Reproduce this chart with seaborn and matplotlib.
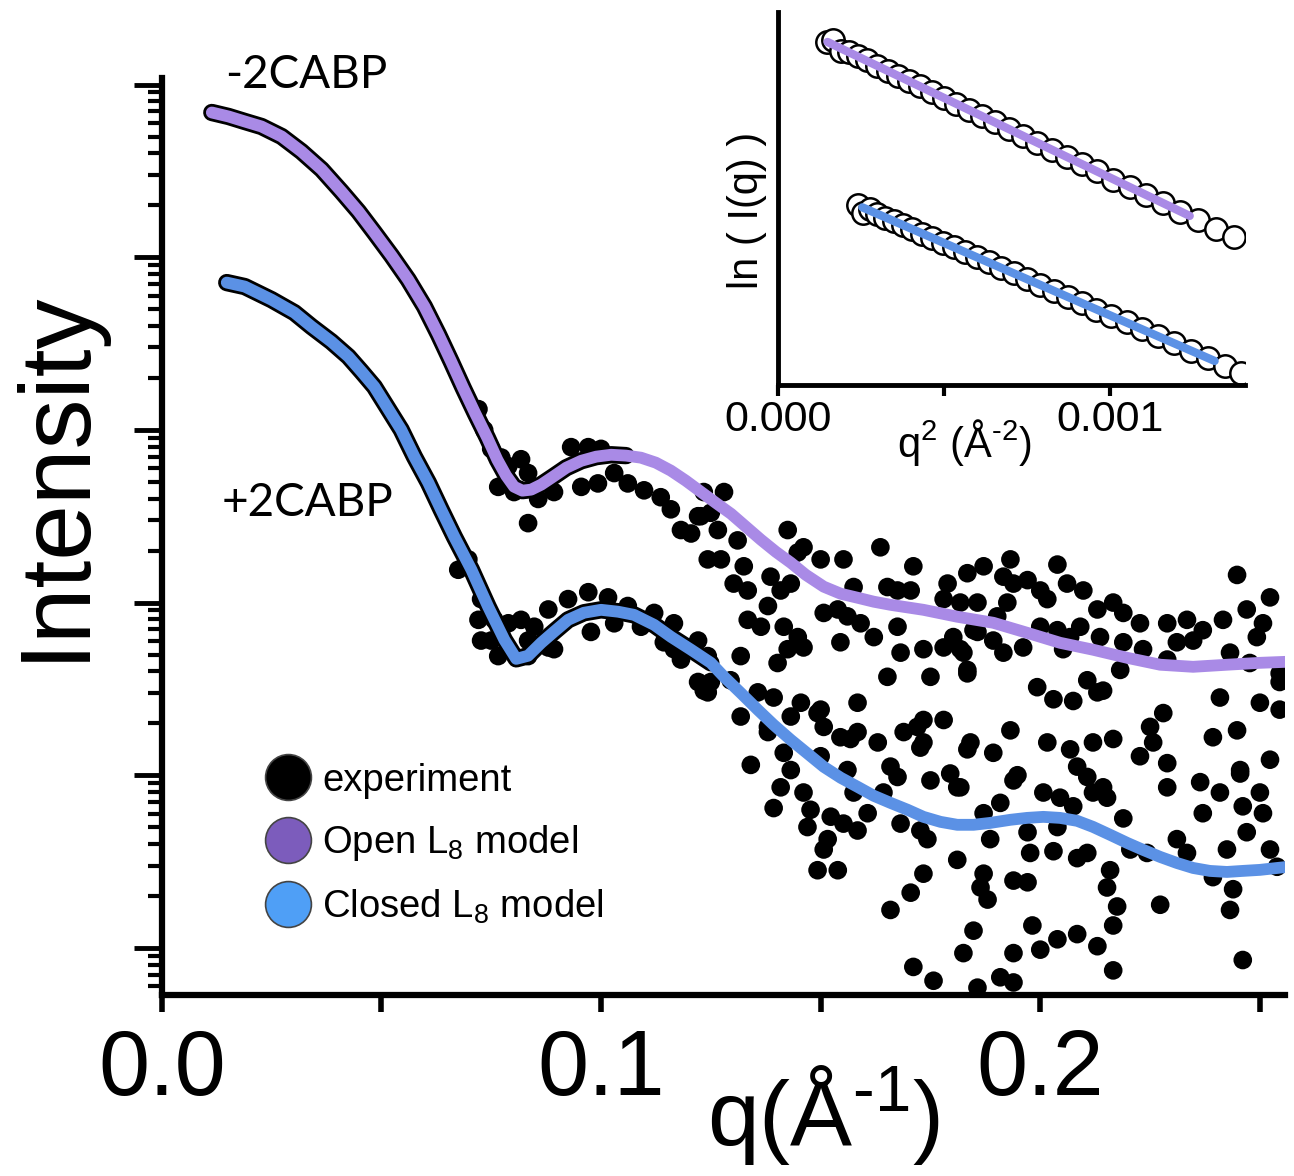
import numpy as np
import pandas as pd
import seaborn as sns
import matplotlib.pyplot as plt
from matplotlib.ticker import LogLocator, NullFormatter, MultipleLocator, FixedLocator, FixedFormatter, FormatStrFormatter
from matplotlib.lines import Line2D

# ----------------------------
# Data
# ----------------------------
# model curves: q (1/A) and log10 of intensity (a.u.)
open_q = [0.0114, 0.0152, 0.0189, 0.0227, 0.0273, 0.0318, 0.0364, 0.0409, 0.0448, 0.0484,
          0.0523, 0.0561, 0.0598, 0.0630, 0.0659, 0.0686, 0.0714, 0.0741, 0.0764, 0.0784,
          0.0802, 0.0821, 0.0841, 0.0864, 0.0891, 0.0921, 0.0955, 0.0989, 0.1023, 0.1057,
          0.1091, 0.1125, 0.1159, 0.1193, 0.1227, 0.1261, 0.1296, 0.1330, 0.1364, 0.1398,
          0.1432, 0.1466, 0.1507, 0.1546, 0.1584, 0.1621, 0.1659, 0.1734, 0.1811, 0.1893,
          0.1970, 0.2045, 0.2120, 0.2198, 0.2273, 0.2348, 0.2425, 0.2500, 0.2561]
open_log10I = [4.838, 4.815, 4.786, 4.757, 4.699, 4.612, 4.508, 4.380, 4.264, 4.143,
               4.009, 3.870, 3.714, 3.552, 3.395, 3.244, 3.094, 2.955, 2.827, 2.735,
               2.671, 2.648, 2.654, 2.683, 2.729, 2.781, 2.821, 2.845, 2.856, 2.851,
               2.839, 2.810, 2.764, 2.706, 2.642, 2.578, 2.514, 2.439, 2.364, 2.294,
               2.231, 2.161, 2.092, 2.051, 2.028, 2.005, 1.987, 1.958, 1.918, 1.883,
               1.825, 1.767, 1.727, 1.680, 1.640, 1.628, 1.640, 1.651, 1.657]

closed_q = [0.0148, 0.0189, 0.0250, 0.0302, 0.0341, 0.0386, 0.0425, 0.0455, 0.0484, 0.0545,
            0.0575, 0.0607, 0.0636, 0.0666, 0.0705, 0.0743, 0.0780, 0.0807, 0.0834, 0.0864,
            0.0893, 0.0925, 0.0961, 0.1000, 0.1039, 0.1075, 0.1121, 0.1159, 0.1205, 0.1250,
            0.1280, 0.1318, 0.1357, 0.1393, 0.1432, 0.1471, 0.1507, 0.1546, 0.1584, 0.1621,
            0.1659, 0.1698, 0.1734, 0.1773, 0.1811, 0.1848, 0.1886, 0.1932, 0.1970, 0.2007,
            0.2045, 0.2084, 0.2120, 0.2159, 0.2198, 0.2234, 0.2273, 0.2311, 0.2348, 0.2386,
            0.2425, 0.2461, 0.2500, 0.2561]
closed_log10I = [3.853, 3.830, 3.754, 3.679, 3.598, 3.511, 3.424, 3.337, 3.250, 3.001,
                 2.845, 2.694, 2.538, 2.381, 2.190, 1.976, 1.784, 1.674, 1.692, 1.767,
                 1.831, 1.900, 1.941, 1.958, 1.947, 1.929, 1.871, 1.802, 1.727, 1.651,
                 1.570, 1.477, 1.379, 1.292, 1.205, 1.124, 1.049, 0.985, 0.933, 0.881,
                 0.840, 0.800, 0.759, 0.730, 0.713, 0.713, 0.724, 0.742, 0.753, 0.759,
                 0.753, 0.736, 0.701, 0.655, 0.608, 0.568, 0.527, 0.492, 0.463, 0.446,
                 0.440, 0.446, 0.452, 0.469]

# experimental points (both samples), q and log10 intensity
exp_q = [0.0721, 0.0734, 0.0750, 0.0773, 0.0818, 0.0789, 0.0834, 0.0766, 0.0802, 0.0857,
         0.0893, 0.0932, 0.0971, 0.1000, 0.0955, 0.0993, 0.1030, 0.1061, 0.1098, 0.1136,
         0.1159, 0.1182, 0.1227, 0.0834, 0.1243, 0.0675, 0.0698, 0.0727, 0.0757, 0.0789,
         0.0818, 0.0848, 0.0880, 0.0925, 0.0971, 0.1016, 0.1061, 0.1121, 0.1166, 0.1221,
         0.0750, 0.0834, 0.0893, 0.1166, 0.1243, 0.0721, 0.0727, 0.0766, 0.0834, 0.0880,
         0.0977, 0.1030, 0.1091, 0.1143, 0.1182, 0.1221, 0.1243, 0.1234, 0.1280, 0.1221,
         0.1250, 0.1205, 0.1266, 0.1311, 0.1273, 0.1325, 0.1425, 0.1461, 0.1448, 0.1500,
         0.1552, 0.1636, 0.1711, 0.1705, 0.1652, 0.1675, 0.1575, 0.1789, 0.1834, 0.1871,
         0.1932, 0.1939, 0.1857, 0.1925, 0.1780, 0.1302, 0.1334, 0.1386, 0.1409, 0.1432,
         0.1380, 0.1334, 0.1364, 0.1416, 0.1448, 0.1425, 0.1461, 0.1402, 0.1507, 0.1539,
         0.1561, 0.1591, 0.1621, 0.1545, 0.1675, 0.1682, 0.1734, 0.1780, 0.1802, 0.1825,
         0.1848, 0.1916, 0.1652, 0.1750, 0.1834, 0.1250, 0.1318, 0.1295, 0.1357, 0.1393,
         0.1455, 0.1493, 0.1318, 0.1380, 0.1432, 0.1507, 0.1545, 0.1584, 0.1630, 0.1584,
         0.1416, 0.1341, 0.1500, 0.1561, 0.1659, 0.1720, 0.1780, 0.1734, 0.1841, 0.1893,
         0.1932, 0.1795, 0.1234, 0.1380, 0.1432, 0.1409, 0.1393, 0.1461, 0.1477, 0.1470,
         0.1523, 0.1516, 0.1507, 0.1493, 0.1539, 0.1552, 0.1584, 0.1575, 0.1607, 0.1643,
         0.1675, 0.1682, 0.1727, 0.1743, 0.1734, 0.1705, 0.1659, 0.1811, 0.1871, 0.1909,
         0.1886, 0.1871, 0.1864, 0.1880, 0.1848, 0.1825, 0.1711, 0.1757, 0.1939, 0.1909,
         0.1857, 0.1500, 0.1568, 0.1689, 0.1734, 0.1727, 0.1834, 0.1750, 0.1811, 0.1939,
         0.1939, 0.1916, 0.1971, 0.2000, 0.2039, 0.2061, 0.2098, 0.2016, 0.1818, 0.1902,
         0.2000, 0.2039, 0.2091, 0.2068, 0.2130, 0.2166, 0.2189, 0.2227, 0.2136, 0.2189,
         0.2234, 0.2289, 0.2334, 0.2370, 0.2311, 0.2348, 0.2416, 0.2448, 0.2470, 0.2523,
         0.2507, 0.2493, 0.2432, 0.2477, 0.2289, 0.2545, 0.2545, 0.1857, 0.1893, 0.1818,
         0.1961, 0.2052, 0.1834, 0.2182, 0.1993, 0.2030, 0.2075, 0.2107, 0.2143, 0.2409,
         0.2500, 0.2545, 0.2016, 0.2068, 0.2120, 0.2166, 0.2280, 0.2250, 0.2257, 0.2227,
         0.2289, 0.2393, 0.2448, 0.2523, 0.2084, 0.1948, 0.2455, 0.2130, 0.2107, 0.1818,
         0.2007, 0.2045, 0.2075, 0.2120, 0.2152, 0.2143, 0.2289, 0.2364, 0.2455, 0.2409,
         0.2370, 0.2461, 0.2500, 0.2507, 0.2189, 0.1971, 0.2039, 0.1977, 0.2030, 0.2084,
         0.2107, 0.2205, 0.2243, 0.2311, 0.2334, 0.2425, 0.2470, 0.2523, 0.2539, 0.2393,
         0.1971, 0.2159, 0.2152, 0.2175, 0.2166, 0.2273, 0.2439, 0.2432, 0.1982, 0.2000,
         0.2039, 0.2084, 0.2130, 0.2166, 0.2461, 0.1939]
exp_log10I = [3.12, 3.00, 2.89, 2.84, 2.83, 2.79, 2.75, 2.67, 2.64, 2.60,
              2.64, 2.90, 2.90, 2.89, 2.67, 2.69, 2.75, 2.69, 2.65, 2.61,
              2.54, 2.42, 2.50, 2.46, 2.25, 2.19, 2.25, 2.02, 1.90, 1.88,
              1.90, 1.86, 1.96, 2.02, 2.06, 2.03, 1.98, 1.94, 1.88, 1.78,
              1.78, 1.78, 1.73, 1.73, 1.69, 1.90, 1.78, 1.69, 1.69, 1.74,
              1.83, 1.88, 1.86, 1.77, 1.67, 1.54, 1.48, 2.64, 2.64, 2.50,
              2.52, 2.40, 2.42, 2.36, 2.25, 2.21, 2.42, 2.32, 2.29, 2.25,
              2.25, 2.32, 2.21, 2.07, 2.09, 2.07, 2.09, 2.11, 2.17, 2.21,
              2.25, 2.11, 2.00, 2.00, 2.02, 2.11, 2.07, 2.15, 2.07, 2.11,
              1.98, 1.90, 1.86, 1.86, 1.80, 1.73, 1.74, 1.65, 1.94, 1.96,
              1.92, 1.88, 1.80, 1.77, 1.86, 1.71, 1.73, 1.74, 1.80, 1.71,
              1.84, 1.71, 1.57, 1.57, 1.59, 1.54, 1.69, 1.55, 1.48, 1.45,
              1.42, 1.36, 1.34, 1.28, 1.34, 1.28, 1.22, 1.25, 1.19, 1.42,
              1.13, 1.06, 1.11, 1.03, 1.05, 1.28, 1.32, 1.19, 1.19, 1.13,
              1.26, 1.01, 1.49, 1.25, 1.03, 0.93, 0.81, 0.90, 0.80, 0.70,
              0.76, 0.63, 0.57, 0.45, 0.45, 0.72, 0.68, 0.90, 0.78, 0.90,
              0.99, 0.72, 0.68, 0.63, 0.43, 0.32, 0.22, 0.51, 0.78, 0.84,
              0.63, 0.43, 0.35, 0.28, 0.10, -0.03, -0.11, -0.19, -0.03, -0.17,
              -0.23, 1.38, 1.21, 1.25, 1.32, 1.16, 1.15, 0.97, 0.93, 0.97,
              0.39, 2.15, 2.13, 2.07, 2.22, 2.11, 2.07, 2.02, 2.00, 1.92,
              1.86, 1.84, 1.86, 1.80, 1.96, 2.00, 1.94, 1.88, 1.80, 1.77,
              1.73, 1.88, 1.90, 1.84, 1.77, 1.78, 1.90, 2.16, 1.96, 2.03,
              1.88, 1.80, 1.71, 1.65, 1.67, 1.59, 1.54, 1.83, 1.78, 1.73,
              1.74, 1.73, 1.61, 1.61, 1.51, 1.44, 1.43, 1.55, 1.49, 1.45,
              1.42, 1.38, 1.19, 1.15, 1.19, 1.21, 1.36, 1.28, 1.19, 1.11,
              1.07, 1.22, 1.26, 1.09, 1.05, 1.00, 1.03, 1.48, 0.99, 0.93,
              0.90, 0.87, 0.82, 0.90, 0.87, 0.93, 0.93, 0.96, 1.01, 0.90,
              0.78, 0.82, 0.90, 0.78, 0.75, 0.67, 0.70, 0.55, 0.56, 0.52,
              0.55, 0.57, 0.55, 0.63, 0.55, 0.57, 0.67, 0.57, 0.47, 0.41,
              0.38, 0.45, 0.35, 0.24, 0.13, 0.25, 0.34, 0.22, 0.13, -0.01,
              0.05, 0.08, 0.01, -0.13, -0.07, -0.20]

# inset (Guinier plot): q^2 (1/A^2) and ln I
open_guinier_q2 = [0.000150, 0.000168, 0.000190, 0.000215, 0.000242, 0.000270, 0.000300, 0.000331,
                   0.000363, 0.000396, 0.000430, 0.000465, 0.000501, 0.000538, 0.000576, 0.000615,
                   0.000655, 0.000696, 0.000738, 0.000781, 0.000825, 0.000870, 0.000916, 0.000963,
                   0.001011, 0.001060, 0.001110, 0.001161, 0.001213, 0.001266, 0.001320, 0.001375]
open_guinier_lnI = [11.000, 11.004, 10.984, 10.981, 10.973, 10.966, 10.955, 10.946,
                    10.937, 10.927, 10.917, 10.906, 10.895, 10.884, 10.873, 10.861,
                    10.850, 10.837, 10.825, 10.812, 10.799, 10.785, 10.772, 10.758,
                    10.743, 10.729, 10.714, 10.699, 10.683, 10.667, 10.651, 10.635]
closed_guinier_q2 = [0.000241, 0.000258, 0.000278, 0.000300, 0.000324, 0.000350, 0.000377, 0.000405,
                     0.000435, 0.000466, 0.000498, 0.000531, 0.000565, 0.000600, 0.000636, 0.000673,
                     0.000711, 0.000750, 0.000790, 0.000831, 0.000873, 0.000916, 0.000960, 0.001005,
                     0.001051, 0.001098, 0.001146, 0.001195, 0.001245, 0.001296, 0.001348, 0.001395]
closed_guinier_lnI = [10.695, 10.680, 10.688, 10.679, 10.672, 10.665, 10.658, 10.651,
                      10.642, 10.634, 10.625, 10.616, 10.607, 10.598, 10.588, 10.578,
                      10.568, 10.557, 10.546, 10.535, 10.524, 10.512, 10.500, 10.488,
                      10.476, 10.463, 10.450, 10.437, 10.423, 10.409, 10.395, 10.382]
open_fit_q2 = [0.000150, 0.001241]
open_fit_lnI = [11.000, 10.675]
closed_fit_q2 = [0.000255, 0.001316]
closed_fit_lnI = [10.691, 10.404]

legend_labels = ["experiment", "Open L$_8$ model", "Closed L$_8$ model"]

# ----------------------------
# Style
# ----------------------------
sns.set_style("ticks")
plt.rcParams['font.family'] = ['Liberation Sans', 'DejaVu Sans']
plt.rcParams['mathtext.fontset'] = 'custom'
plt.rcParams['mathtext.rm'] = 'Liberation Sans'
plt.rcParams['mathtext.it'] = 'Liberation Sans:italic'
plt.rcParams['mathtext.bf'] = 'Liberation Sans:bold'
for key in ['text.color', 'axes.labelcolor', 'xtick.color', 'ytick.color', 'axes.edgecolor']:
    plt.rcParams[key] = 'black'

open_line = '#a98ae6'
closed_line = '#5b91e5'
open_marker = '#7c5cbc'
closed_marker = '#4f9ff6'
narrow = ['Liberation Sans Narrow', 'Liberation Sans']

df_open = pd.DataFrame({'q': open_q, 'I': np.power(10.0, open_log10I)})
df_closed = pd.DataFrame({'q': closed_q, 'I': np.power(10.0, closed_log10I)})
df_exp = pd.DataFrame({'q': exp_q, 'I': np.power(10.0, exp_log10I)})

fig = plt.figure(figsize=(12.94, 11.76), dpi=100)
ax = fig.add_axes([0.125, 0.154, 0.868, 0.780])
ax.set_yscale('log')

line_kw = dict(sort=False, estimator=None, solid_capstyle='round', solid_joinstyle='round')
# dense low-q experimental points sit on the model and read as a black band
sns.lineplot(data=df_open[df_open.q <= 0.106], x='q', y='I', color='black', lw=12.5,
             ax=ax, zorder=2, **line_kw)
sns.lineplot(data=df_closed[df_closed.q <= 0.125], x='q', y='I', color='black', lw=12.5,
             ax=ax, zorder=2, **line_kw)
sns.scatterplot(data=df_exp, x='q', y='I', color='black', s=180, edgecolor='none',
                ax=ax, zorder=2)
sns.lineplot(data=df_open, x='q', y='I', color=open_line, lw=8.5, ax=ax, zorder=3, **line_kw)
sns.lineplot(data=df_closed, x='q', y='I', color=closed_line, lw=8.5, ax=ax, zorder=3, **line_kw)

ax.set_xlim(0, 0.2557)
ax.set_ylim(10 ** -0.272, 10 ** 5.04)
ax.xaxis.set_major_locator(MultipleLocator(0.1))
ax.xaxis.set_minor_locator(MultipleLocator(0.05))
ax.xaxis.set_major_formatter(FormatStrFormatter('%.1f'))
ax.yaxis.set_major_locator(LogLocator(base=10, numticks=12))
ax.yaxis.set_minor_locator(LogLocator(base=10, subs=np.arange(2, 10), numticks=12))
ax.yaxis.set_major_formatter(NullFormatter())
ax.yaxis.set_minor_formatter(NullFormatter())
ax.tick_params(axis='x', which='both', direction='out', length=12, width=4, pad=12)
ax.tick_params(axis='y', which='major', direction='out', length=20, width=3.5)
ax.tick_params(axis='y', which='minor', direction='out', length=10, width=3)
for lab in ax.get_xticklabels():
    lab.set_fontsize(66)
    lab.set_family(narrow)
sns.despine(ax=ax)
for side in ['left', 'bottom']:
    ax.spines[side].set_linewidth(4.5)

ax.set_ylabel("Intensity", fontsize=72, va='center')
ax.yaxis.set_label_coords(-0.094, 0.567)
ax.set_xlabel(r"q(Å$^{\text{-1}}$)", fontsize=67, va='top')
ax.xaxis.set_label_coords(0.589, -0.074)

ax.text(0.056, 0.989, "-2CABP", transform=ax.transAxes, fontsize=33,
        family=['Lato', 'DejaVu Sans'], va='baseline')
ax.text(0.053, 0.522, "+2CABP", transform=ax.transAxes, fontsize=33,
        family=['Lato', 'DejaVu Sans'], va='baseline')

handles = [Line2D([], [], ls='none', marker='o', markersize=33, markerfacecolor=c,
                  markeredgecolor='#444444', markeredgewidth=1.2)
           for c in ['black', open_marker, closed_marker]]
ax.legend(handles, legend_labels, loc='upper left', bbox_to_anchor=(0.0926, 0.253),
          frameon=False, fontsize=27.5, handlelength=1.15, handletextpad=0.33,
          labelspacing=0.64, borderpad=0, borderaxespad=0)

# ----------------------------
# Inset: Guinier plot
# ----------------------------
axin = fig.add_axes([0.601, 0.6726, 0.361, 0.3172])
sns.scatterplot(x=open_guinier_q2, y=open_guinier_lnI, s=260, color='white',
                edgecolor='black', linewidth=1.8, ax=axin, zorder=2)
sns.scatterplot(x=closed_guinier_q2, y=closed_guinier_lnI, s=260, color='white',
                edgecolor='black', linewidth=1.8, ax=axin, zorder=2)
sns.lineplot(x=open_fit_q2, y=open_fit_lnI, color=open_line, lw=6, ax=axin, zorder=3)
sns.lineplot(x=closed_fit_q2, y=closed_fit_lnI, color=closed_line, lw=6, ax=axin, zorder=3)
axin.set_xlim(0, 0.001407)
axin.set_ylim(10.359, 11.056)
axin.xaxis.set_major_locator(FixedLocator([0.0, 0.0005, 0.001]))
axin.xaxis.set_major_formatter(FixedFormatter(['0.000', '', '0.001']))
axin.set_yticks([])
axin.tick_params(axis='x', direction='out', length=8, width=3, pad=3)
for lab in axin.get_xticklabels():
    lab.set_fontsize(31)
    lab.set_family(narrow)
sns.despine(ax=axin)
for side in ['left', 'bottom']:
    axin.spines[side].set_linewidth(3.5)
axin.set_xlabel(r"q$^{\text{2}}$ (Å$^{\text{-2}}$)", fontsize=30, va='top')
axin.xaxis.set_label_coords(0.40, -0.085)
axin.set_ylabel("ln ( I(q) )", fontsize=30, va='center')
axin.yaxis.set_label_coords(-0.066, 0.469)

fig.savefig("out.png", dpi=100)
